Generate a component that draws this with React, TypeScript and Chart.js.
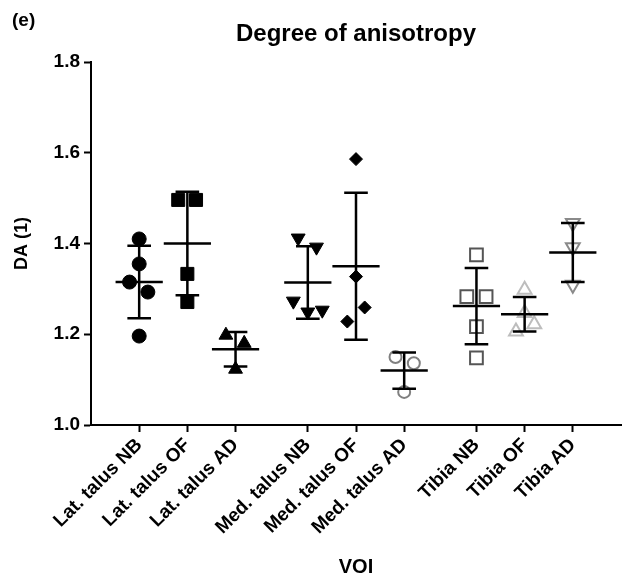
import React, { useEffect, useRef } from "react";
import { Chart, registerables } from "chart.js";

Chart.register(...registerables);

const categories = [
  "Lat. talus NB", "Lat. talus OF", "Lat. talus AD",
  "Med. talus NB", "Med. talus OF", "Med. talus AD",
  "Tibia NB", "Tibia OF", "Tibia AD",
];
// category slot on the x axis (groups separated by a wider gap)
const slots = [0, 1, 2, 3.5, 4.5, 5.5, 7, 8, 9];

const latTalusNB = [1.41, 1.355, 1.315, 1.293, 1.196];
const latTalusOF = [1.496, 1.496, 1.333, 1.271];
const latTalusAD = [1.198, 1.18, 1.123];
const medTalusNB = [1.412, 1.392, 1.273, 1.249, 1.253];
const medTalusOF = [1.586, 1.327, 1.259, 1.228];
const medTalusAD = [1.15, 1.136, 1.073];
const tibiaNB = [1.375, 1.283, 1.283, 1.217, 1.148];
const tibiaOF = [1.298, 1.247, 1.222, 1.206];
const tibiaAD = [1.445, 1.392, 1.309];

// horizontal scatter of the points within each column (category units)
const jitterLatNB = [0, 0, -0.2, 0.18, 0];
const jitterLatOF = [-0.19, 0.18, 0, 0];
const jitterLatAD = [-0.2, 0.18, 0];
const jitterMedNB = [-0.2, 0.18, -0.3, 0, 0.3];
const jitterMedOF = [0, 0, 0.18, -0.18];
const jitterMedAD = [-0.18, 0.2, 0];
const jitterTibNB = [0, -0.2, 0.2, 0, 0];
const jitterTibOF = [0, 0, 0.2, -0.18];
const jitterTibAD = [0, 0, 0];

const means = [1.315, 1.4, 1.167, 1.314, 1.35, 1.12, 1.262, 1.244, 1.38];
const sds = [0.08, 0.114, 0.038, 0.08, 0.162, 0.04, 0.084, 0.038, 0.065];

const yTicks = [1.0, 1.2, 1.4, 1.6, 1.8];

const FONT = "'Liberation Sans', Arial, sans-serif";

export default function App() {
  const ref = useRef<HTMLCanvasElement | null>(null);

  useEffect(() => {
    document.body.style.margin = "0";
    const canvas = ref.current;
    if (!canvas) return;

    const values = [latTalusNB, latTalusOF, latTalusAD, medTalusNB, medTalusOF, medTalusAD, tibiaNB, tibiaOF, tibiaAD];
    const jitters = [jitterLatNB, jitterLatOF, jitterLatAD, jitterMedNB, jitterMedOF, jitterMedAD, jitterTibNB, jitterTibOF, jitterTibAD];
    const styles: any[] = [
      { pointStyle: "circle", radius: 7, fill: "#000", stroke: "#000", bw: 1, rot: 0 },
      { pointStyle: "rect", radius: 9.2, fill: "#000", stroke: "#000", bw: 1, rot: 0 },
      { pointStyle: "triangle", radius: 8, fill: "#000", stroke: "#000", bw: 1, rot: 0 },
      { pointStyle: "triangle", radius: 8, fill: "#000", stroke: "#000", bw: 1, rot: 180 },
      { pointStyle: "rectRot", radius: 6.5, fill: "#000", stroke: "#000", bw: 1, rot: 0 },
      { pointStyle: "circle", radius: 6, fill: "rgba(0,0,0,0)", stroke: "#808080", bw: 2, rot: 0 },
      { pointStyle: "rect", radius: 9, fill: "rgba(0,0,0,0)", stroke: "#555555", bw: 2, rot: 0 },
      { pointStyle: "triangle", radius: 8, fill: "rgba(0,0,0,0)", stroke: "#bdbdbd", bw: 2, rot: 0 },
      { pointStyle: "triangle", radius: 8, fill: "rgba(0,0,0,0)", stroke: "#8a8a8a", bw: 2, rot: 180 },
    ];

    const datasets = values.map((vals, i) => ({
      label: categories[i],
      data: vals.map((v, j) => ({ x: slots[i] + jitters[i][j], y: v })),
      pointStyle: styles[i].pointStyle,
      pointRadius: styles[i].radius,
      pointRotation: styles[i].rot,
      pointBackgroundColor: styles[i].fill,
      pointBorderColor: styles[i].stroke,
      pointBorderWidth: styles[i].bw,
      showLine: false,
    }));

    const meanSdPlugin = {
      id: "meanSd",
      afterDatasetsDraw(chart: any) {
        const { ctx, scales } = chart;
        const xs = scales.x;
        const ys = scales.y;
        ctx.save();
        ctx.strokeStyle = "#000";
        ctx.lineWidth = 2.5;
        ctx.lineCap = "butt";
        means.forEach((m, i) => {
          const s = sds[i];
          const cx = xs.getPixelForValue(slots[i]);
          const mw = xs.getPixelForValue(slots[i] + 0.49) - cx;
          const cw = xs.getPixelForValue(slots[i] + 0.245) - cx;
          const yM = ys.getPixelForValue(m);
          const yU = ys.getPixelForValue(m + s);
          const yL = ys.getPixelForValue(m - s);
          ctx.beginPath();
          ctx.moveTo(cx - mw, yM); ctx.lineTo(cx + mw, yM);
          ctx.moveTo(cx, yU); ctx.lineTo(cx, yL);
          ctx.moveTo(cx - cw, yU); ctx.lineTo(cx + cw, yU);
          ctx.moveTo(cx - cw, yL); ctx.lineTo(cx + cw, yL);
          ctx.stroke();
        });
        ctx.restore();
      },
    };

    const textPlugin = {
      id: "texts",
      afterDraw(chart: any) {
        const { ctx, chartArea } = chart;
        ctx.save();
        ctx.fillStyle = "#000";
        ctx.textBaseline = "middle";
        ctx.font = `bold 19px ${FONT}`;
        ctx.textAlign = "left";
        ctx.fillText("(e)", 12, 21);
        ctx.font = `bold 24px ${FONT}`;
        ctx.textAlign = "center";
        ctx.fillText("Degree of anisotropy", (chartArea.left + chartArea.right) / 2, 34);
        ctx.restore();
      },
    };

    const chart = new Chart(canvas, {
      type: "scatter",
      data: { datasets },
      plugins: [meanSdPlugin, textPlugin],
      options: {
        responsive: false,
        animation: false,
        layout: { padding: { top: 62, right: 0, left: 0, bottom: 0 } },
        plugins: {
          legend: { display: false },
          tooltip: { enabled: false },
          title: { display: false },
        },
        scales: {
          x: {
            type: "linear",
            min: -1,
            max: 10,
            afterBuildTicks: (scale: any) => {
              scale.ticks = slots.map((v) => ({ value: v }));
            },
            afterFit: (scale: any) => {
              scale.height = 160;
            },
            ticks: {
              autoSkip: false,
              minRotation: 45,
              maxRotation: 45,
              padding: 2,
              color: "#000",
              font: { family: FONT, size: 19, weight: "bold" },
              callback: (_v: any, i: number) => categories[i],
            },
            grid: { drawOnChartArea: false, drawTicks: true, tickLength: 7, tickWidth: 2, color: "#000" },
            border: { display: true, color: "#000", width: 2 },
            title: {
              display: true,
              text: "VOI",
              color: "#000",
              font: { family: FONT, size: 20, weight: "bold" },
              padding: { top: 0, bottom: 6 },
            },
          },
          y: {
            type: "linear",
            min: 1.0,
            max: 1.8,
            afterBuildTicks: (scale: any) => {
              scale.ticks = yTicks.map((v) => ({ value: v }));
            },
            afterFit: (scale: any) => {
              scale.width = 91;
            },
            ticks: {
              color: "#000",
              padding: 4,
              font: { family: FONT, size: 19, weight: "bold" },
              callback: (v: any) => Number(v).toFixed(1),
            },
            grid: { drawOnChartArea: false, drawTicks: true, tickLength: 7, tickWidth: 2, color: "#000" },
            border: { display: true, color: "#000", width: 2 },
            title: {
              display: true,
              text: "DA (1)",
              color: "#000",
              font: { family: FONT, size: 18, weight: "bold" },
              padding: { top: 11, bottom: 0 },
            },
          },
        },
      } as any,
    });
    return () => chart.destroy();
  }, []);

  return (
    <div style={{ position: "absolute", left: 0, top: 0, width: 632, height: 585, background: "#fff" }}>
      <canvas ref={ref} width={632} height={585} />
    </div>
  );
}
